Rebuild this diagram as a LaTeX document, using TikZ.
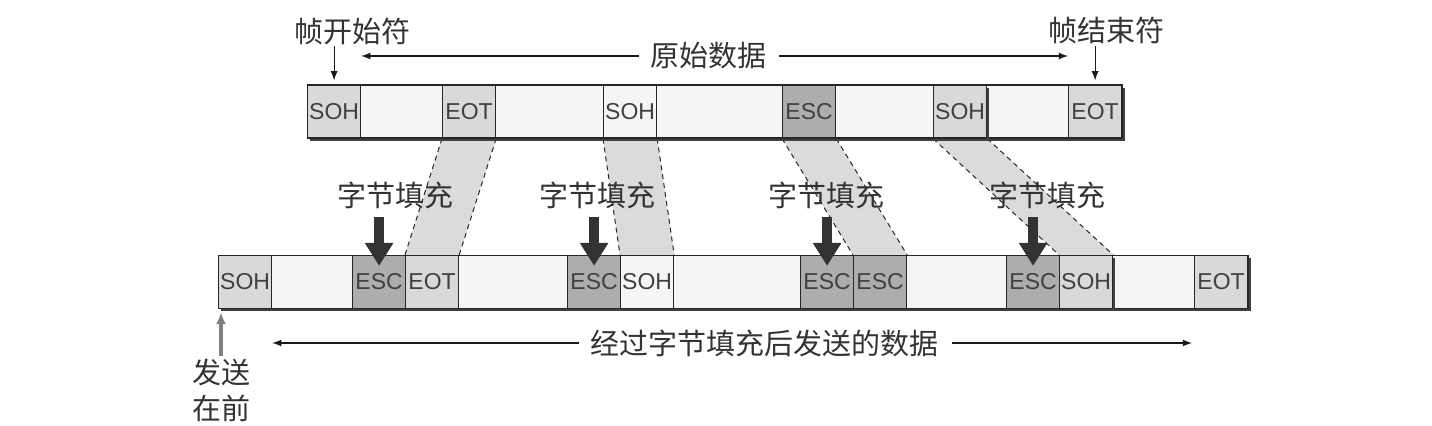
\documentclass[tikz,border=0pt]{standalone}
\usepackage{fontspec}
\setmainfont{Liberation Sans}
\newfontfamily\cjk{Noto Sans CJK SC}
\usetikzlibrary{shadows,arrows,arrows.meta,positioning,calc,backgrounds}
\newcommand{\bandlink}[2]{%
\fill[band] (#1.south west) -- (#1.south east) -- (#2.north east) -- (#2.north west) -- cycle;
\draw[bandedge] (#1.south west) -- (#2.north west);
\draw[bandedge] (#1.south east) -- (#2.north east);}

\begin{document}
\begin{tikzpicture}
[x=.5pt,y=-.5pt,>=latex,
bar/.style={draw=black!85,fill=black!4,line width=.7pt,minimum height=26.5pt,inner sep=0pt,anchor=west,
  general shadow={fill=black!75,shadow xshift=1.3pt,shadow yshift=-1.3pt}},
cell/.style={draw=black!85,line width=.6pt,minimum width=26.5pt,minimum height=26.5pt,inner sep=0pt,
  anchor=west,text=black!75,font=\fontsize{11.5}{11.5}\selectfont},
ctrl/.style={cell,fill=black!15},
esc/.style={cell,fill=black!32},
plain/.style={cell,fill=black!4},
cellshadow/.style={general shadow={fill=black!75,shadow xshift=1.3pt,shadow yshift=-1.3pt}},
lbl/.style={font=\cjk\fontsize{14.5}{18}\selectfont,text=black!80,inner sep=1pt},
band/.style={fill=black!14},
bandedge/.style={black!85,line width=.5pt,dash pattern=on 2.5pt off 2pt},
pointer/.style={->,black!90,line width=.6pt},
push/.style={-{Triangle[length=11.5pt,width=13.5pt]},black!80,line width=5pt},
sendarrow/.style={-{Latex[length=6pt,width=5pt]},black!50,line width=1.6pt}]
\useasboundingbox (0,0) rectangle (1432,426);
%% original frame
\node[bar,minimum width=407.5pt] (topbar) at (307,111.5) {};
\node[ctrl] (tsoh) at (307,111.5) {SOH};
\node[ctrl] (teot) at (442,111.5) {EOT};
\node[plain] (tsoh2) at (603,111.5) {SOH};
\node[esc] (tesc) at (782,111.5) {ESC};
\node[ctrl,cellshadow] (tsoh3) at (933,111.5) {SOH};
\node[ctrl] (teot2) at (1068,111.5) {EOT};
%% stuffed frame
\node[bar,minimum width=515pt] (botbar) at (218,282) {};
\node[ctrl] (bsoh) at (218,282) {SOH};
\node[esc] (besc) at (352,282) {ESC};
\node[ctrl] (beot) at (405,282) {EOT};
\node[esc] (besc2) at (567,282) {ESC};
\node[plain] (bsoh2) at (620,282) {SOH};
\node[esc] (besc3) at (800,282) {ESC};
\node[esc] (besc4) at (853,282) {ESC};
\node[esc] (besc5) at (1006,282) {ESC};
\node[ctrl,cellshadow] (bsoh3) at (1059,282) {SOH};
\node[ctrl] (beot2) at (1194,282) {EOT};
%%
\begin{scope}[on background layer]
\bandlink{teot}{beot}
\bandlink{tsoh2}{bsoh2}
\bandlink{tesc}{besc4}
\bandlink{tsoh3}{bsoh3}
\end{scope}
%%
\node[lbl] (fill1) at (395,195) {字节填充};
\node[lbl] (fill2) at (597,195) {字节填充};
\node[lbl] (fill3) at (826,195) {字节填充};
\node[lbl] (fill4) at (1047,195) {字节填充};
\draw[push] ([yshift=19pt]besc.north) -- ([yshift=-5.5pt]besc.north);
\draw[push] ([yshift=19pt]besc2.north) -- ([yshift=-5.5pt]besc2.north);
\draw[push] ([yshift=19pt]besc3.north) -- ([yshift=-5.5pt]besc3.north);
\draw[push] ([yshift=19pt]besc5.north) -- ([yshift=-5.5pt]besc5.north);
%%
\node[lbl] (fstart) at (352,32) {帧开始符};
\node[lbl] (fend) at (1106,30) {帧结束符};
\draw[pointer] ([yshift=19pt]tsoh.north) -- ([yshift=2pt]tsoh.north);
\draw[pointer] ([yshift=19pt]teot2.north) -- ([yshift=2pt]teot2.north);
\node[lbl] (orig) at (708,56) {原始数据};
\draw[pointer,shorten <=4.5pt] (orig.west) -- (orig.west -| tsoh.east);
\draw[pointer,shorten <=5.5pt] (orig.east) -- (orig.east -| teot2.west);
%%
\node[lbl] (sent) at (764,343) {经过字节填充后发送的数据};
\draw[pointer,shorten <=4.5pt] (sent.west) -- (sent.west -| bsoh.east);
\draw[pointer,shorten <=6pt,shorten >=1pt] (sent.east) -- (sent.east -| beot2.west);
\node[lbl,align=center] (first) at (221,390) {发送\\在前};
\draw[sendarrow,shorten >=1.5pt] (first.north) -- (first.north |- bsoh.south);
\end{tikzpicture}
\end{document}
